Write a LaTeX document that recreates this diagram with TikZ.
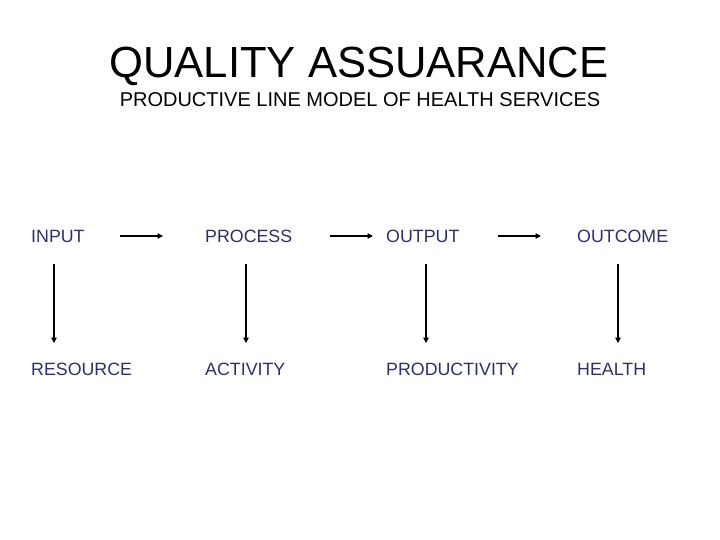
\documentclass[tikz,border=0pt]{standalone}
\usepackage{fontspec}
\setmainfont{Liberation Sans}
\usetikzlibrary{arrows.meta}
\definecolor{navy}{HTML}{2E2E6B}
\begin{document}
\begin{tikzpicture}[x=1pt,y=-1pt,
  lbl/.style={anchor=base west,inner sep=0pt,text=navy,font=\fontsize{17.8}{20}\selectfont},
  arr/.style={line width=1.6pt,-{Triangle[length=5.5pt,width=5.5pt]}}]
\useasboundingbox (0,0) rectangle (720,540);
\node[anchor=base,inner sep=0pt,font=\fontsize{43.6}{48}\selectfont] (title) at (359,78) {QUALITY ASSUARANCE};
\node[anchor=base,inner sep=0pt,font=\fontsize{20}{22}\selectfont] (sub) at (360,107) {PRODUCTIVE LINE MODEL OF HEALTH SERVICES};
\node[lbl] (input) at (31,243) {INPUT};
\node[lbl] (process) at (205,243) {PROCESS};
\node[lbl] (output) at (386,243) {OUTPUT};
\node[lbl] (outcome) at (577,243) {OUTCOME};
\node[lbl] (resource) at (31,375) {RESOURCE};
\node[lbl] (activity) at (205,375) {ACTIVITY};
\node[lbl] (productivity) at (386,375) {PRODUCTIVITY};
\node[lbl] (health) at (577,375) {HEALTH};
\coordinate (h1a) at (120,236); \coordinate (h1b) at (163,236);
\coordinate (h2a) at (330,236); \coordinate (h2b) at (373,236);
\coordinate (h3a) at (498,236); \coordinate (h3b) at (541,236);
\coordinate (v1a) at (54,264); \coordinate (v1b) at (54,343);
\coordinate (v2a) at (246,264); \coordinate (v2b) at (246,343);
\coordinate (v3a) at (426,264); \coordinate (v3b) at (426,343);
\coordinate (v4a) at (618,264); \coordinate (v4b) at (618,343);
\draw[arr] (h1a) -- (h1b);
\draw[arr] (h2a) -- (h2b);
\draw[arr] (h3a) -- (h3b);
\draw[arr] (v1a) -- (v1b);
\draw[arr] (v2a) -- (v2b);
\draw[arr] (v3a) -- (v3b);
\draw[arr] (v4a) -- (v4b);
\end{tikzpicture}
\end{document}
